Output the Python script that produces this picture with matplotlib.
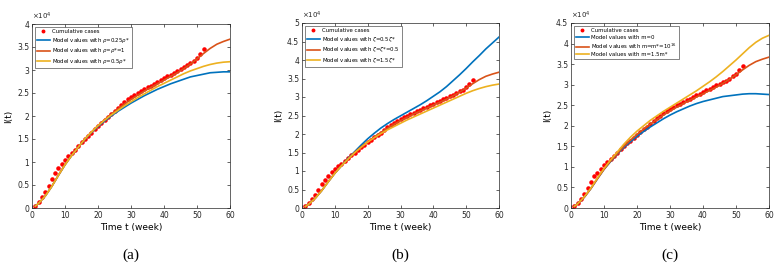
import matplotlib
matplotlib.use("Agg")
import matplotlib.pyplot as plt

# ---- data (values in units of 10^4) ----
weeks = list(range(1, 53))
cases = [0.05, 0.13, 0.23, 0.34, 0.48, 0.64, 0.77, 0.86, 0.96, 1.05,
         1.13, 1.20, 1.27, 1.35, 1.43, 1.50, 1.57, 1.64, 1.71, 1.78,
         1.85, 1.91, 1.97, 2.04, 2.11, 2.18, 2.25, 2.31, 2.36, 2.41,
         2.46, 2.50, 2.54, 2.58, 2.62, 2.66, 2.70, 2.74, 2.78, 2.82,
         2.86, 2.90, 2.94, 2.98, 3.02, 3.06, 3.10, 3.15, 3.20, 3.27,
         3.35, 3.46]

t_model = [1, 2, 4, 6, 8, 10, 12, 14, 16, 18, 20, 22, 24, 26, 28, 30,
           32, 34, 36, 38, 40, 42, 44, 46, 48, 50, 52, 54, 56, 58, 60]

early = [0.04, 0.10, 0.26, 0.47, 0.71, 0.94, 1.14, 1.32]

red_fit = early + [1.50, 1.65, 1.79, 1.92, 2.04, 2.15, 2.26, 2.36, 2.45, 2.54,
                   2.62, 2.70, 2.78, 2.86, 2.94, 3.03, 3.13, 3.24, 3.36, 3.47,
                   3.56, 3.62, 3.67]

a_blue = early + [1.49, 1.64, 1.77, 1.89, 2.00, 2.10, 2.19, 2.28, 2.36, 2.44,
                  2.51, 2.58, 2.64, 2.70, 2.75, 2.80, 2.85, 2.88, 2.91, 2.94,
                  2.95, 2.96, 2.96]
a_yellow = early + [1.50, 1.65, 1.79, 1.91, 2.02, 2.12, 2.22, 2.31, 2.40, 2.48,
                    2.56, 2.64, 2.71, 2.78, 2.85, 2.92, 2.98, 3.03, 3.08, 3.12,
                    3.15, 3.17, 3.18]

b_blue = [0.04, 0.10, 0.26, 0.47, 0.71, 0.94, 1.14, 1.34,
          1.52, 1.70, 1.87, 2.02, 2.16, 2.28, 2.39, 2.49, 2.59, 2.69,
          2.79, 2.90, 3.02, 3.14, 3.28, 3.44, 3.60, 3.77, 3.95, 4.12,
          4.30, 4.46, 4.62]
b_yellow = early + [1.49, 1.64, 1.78, 1.90, 2.01, 2.11, 2.20, 2.29, 2.38, 2.46,
                    2.54, 2.62, 2.70, 2.78, 2.86, 2.94, 3.02, 3.10, 3.17, 3.23,
                    3.28, 3.32, 3.35]

c_blue = [0.04, 0.10, 0.26, 0.47, 0.71, 0.94, 1.13, 1.31,
          1.47, 1.61, 1.74, 1.86, 1.97, 2.07, 2.17, 2.26, 2.34, 2.41,
          2.48, 2.54, 2.59, 2.63, 2.67, 2.71, 2.73, 2.75, 2.77, 2.78,
          2.78, 2.77, 2.76]
c_yellow = [0.04, 0.10, 0.27, 0.48, 0.73, 0.96, 1.17, 1.36,
            1.55, 1.72, 1.87, 2.00, 2.13, 2.24, 2.35, 2.45, 2.55, 2.65,
            2.75, 2.85, 2.96, 3.07, 3.19, 3.32, 3.46, 3.60, 3.75, 3.90,
            4.03, 4.13, 4.20]

panels = [
    dict(tag="(a)", ymax=4.0,
         labels=[r"Model values with $\rho$=0.25$\rho$*", r"Model values with $\rho$=$\rho$*=1",
                 r"Model values with $\rho$=0.5$\rho$*"],
         series=[a_blue, red_fit, a_yellow]),
    dict(tag="(b)", ymax=5.0,
         labels=[r"Model values with $\zeta$=0.5$\zeta$*", r"Model values with $\zeta$=$\zeta$*=0.5",
                 r"Model values with $\zeta$=1.5$\zeta$*"],
         series=[b_blue, red_fit, b_yellow]),
    dict(tag="(c)", ymax=4.5,
         labels=["Model values with m=0", r"Model values with m=m*=10$^{16}$",
                 "Model values with m=1.5m*"],
         series=[c_blue, red_fit, c_yellow]),
]

colors = ["#0072BD", "#D95319", "#EDB120"]

W, H = 782, 272
fig = plt.figure(figsize=(W / 100, H / 100), dpi=100)

# axes rectangles in pixels (left, top, right, bottom)
rects = [(32, 24, 230, 208), (302, 23, 499, 208), (571, 23, 769, 208)]

for p, (l, t, r, b) in zip(panels, rects):
    ax = fig.add_axes([l / W, 1 - b / H, (r - l) / W, (b - t) / H])
    ax.plot(weeks, cases, ".", color="red", markersize=4.5, label="Cumulative cases")
    for s, c, lab in zip(p["series"], colors, p["labels"]):
        ax.plot(t_model, s, "-", color=c, lw=1.2, label=lab)
    ax.set_xlim(0, 60)
    ax.set_ylim(0, p["ymax"])
    ax.set_xticks(range(0, 61, 10))
    yt = [i * 0.5 for i in range(int(p["ymax"] / 0.5) + 1)]
    ax.set_yticks(yt)
    ax.set_yticklabels([("%g" % v) for v in yt])
    ax.tick_params(direction="in", length=2, width=0.5, labelsize=5.5,
                   top=True, right=True, pad=2, colors="#262626")
    for sp in ax.spines.values():
        sp.set_linewidth(0.5)
        sp.set_color("#262626")
    ax.set_xlabel("Time t (week)", fontsize=6.5, labelpad=2)
    ax.set_ylabel("I(t)", fontsize=6.5, labelpad=3)
    ax.text(0.0, 1.01, r"$\times 10^4$", transform=ax.transAxes,
            fontsize=5, ha="left", va="bottom", color="#262626")
    leg = ax.legend(loc="upper left", fontsize=3.9, frameon=True, fancybox=False,
                    handlelength=2.3, handletextpad=0.5, borderpad=0.35,
                    labelspacing=0.3, borderaxespad=0.6, markerscale=0.8)
    leg.get_frame().set_edgecolor("#262626")
    leg.get_frame().set_linewidth(0.5)
    fig.text((l + r) / 2 / W, 1 - 255 / H, p["tag"], ha="center", va="center",
             fontsize=11, family="Liberation Serif")

fig.savefig("out.png", dpi=100)
